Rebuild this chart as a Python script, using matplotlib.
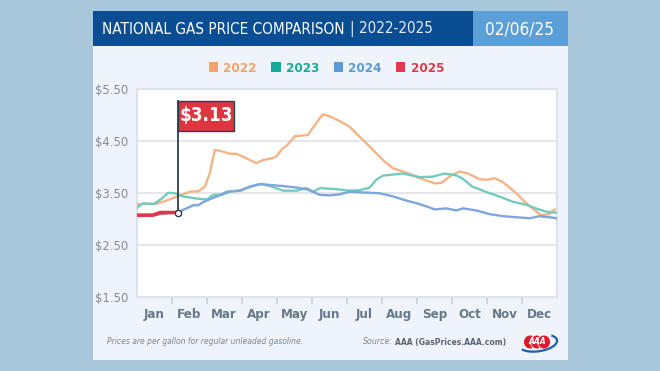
import numpy as np
import matplotlib
matplotlib.use("Agg")
import matplotlib.pyplot as plt
from matplotlib.patches import Rectangle, Ellipse, Arc, Patch

W, H = 660, 371

# month position (0 = Jan 1, 12 = Dec 31) and price in dollars
x_2022 = [0.0, 0.57, 0.86, 1.19, 1.52, 1.76, 1.95, 2.09, 2.23, 2.38, 2.66, 2.85, 3.14, 3.42,
          3.61, 3.85, 3.99, 4.18, 4.28, 4.52, 4.89, 4.99, 5.18, 5.32, 5.51, 5.79, 6.08, 6.32,
          6.56, 6.84, 7.08, 7.32, 7.60, 7.89, 8.08, 8.51, 8.70, 8.93, 9.22, 9.46, 9.79, 10.03,
          10.22, 10.45, 10.84, 11.12, 11.41, 11.55, 11.78, 11.93]
y_2022 = [3.29, 3.30, 3.36, 3.45, 3.53, 3.54, 3.63, 3.89, 4.33, 4.32, 4.26, 4.26, 4.17, 4.08,
          4.14, 4.17, 4.21, 4.37, 4.41, 4.60, 4.62, 4.72, 4.90, 5.02, 4.98, 4.89, 4.78, 4.62,
          4.46, 4.27, 4.11, 3.98, 3.92, 3.85, 3.79, 3.69, 3.70, 3.82, 3.92, 3.88, 3.77, 3.76,
          3.79, 3.72, 3.50, 3.31, 3.15, 3.08, 3.10, 3.19]

x_2023 = [0.0, 0.19, 0.48, 0.72, 0.90, 1.09, 1.33, 1.71, 2.00, 2.19, 2.43, 2.66, 3.00, 3.28,
          3.57, 3.85, 4.18, 4.56, 4.85, 5.04, 5.23, 5.70, 6.08, 6.37, 6.65, 6.84, 7.03, 7.32,
          7.60, 7.89, 8.08, 8.45, 8.78, 9.10, 9.29, 9.58, 9.96, 10.34, 10.73, 11.12, 11.39,
          11.68, 11.88, 12.0]
y_2023 = [3.22, 3.31, 3.29, 3.40, 3.51, 3.50, 3.44, 3.40, 3.38, 3.47, 3.47, 3.53, 3.56, 3.63,
          3.68, 3.63, 3.55, 3.55, 3.60, 3.53, 3.60, 3.58, 3.55, 3.56, 3.61, 3.76, 3.84, 3.86,
          3.88, 3.84, 3.81, 3.82, 3.88, 3.85, 3.79, 3.63, 3.53, 3.44, 3.34, 3.28, 3.21,
          3.15, 3.13, 3.13]

x_2024 = [0.0, 0.5, 0.9, 1.23, 1.42, 1.62, 1.76, 1.90, 2.14, 2.33, 2.57, 2.95, 3.23, 3.52,
          3.80, 4.18, 4.56, 4.85, 5.23, 5.51, 5.79, 6.08, 6.65, 6.94, 7.32, 7.70, 7.98, 8.18,
          8.51, 8.84, 9.13, 9.32, 9.70, 10.07, 10.45, 10.84, 11.22, 11.50, 11.78, 12.0]
y_2024 = [3.08, 3.08, 3.12, 3.15, 3.21, 3.27, 3.27, 3.33, 3.40, 3.45, 3.53, 3.55, 3.63, 3.68,
          3.66, 3.64, 3.61, 3.58, 3.47, 3.46, 3.48, 3.53, 3.51, 3.50, 3.44, 3.36, 3.31, 3.27,
          3.19, 3.21, 3.17, 3.21, 3.17, 3.10, 3.06, 3.04, 3.02, 3.06, 3.04, 3.02]

x_2025 = [0.0, 0.47, 0.67, 0.95, 1.19]
y_2025 = [3.08, 3.08, 3.13, 3.13, 3.13]

years = ["2022", "2023", "2024", "2025"]
line_colors = ["#f6b486", "#72cbbf", "#7ea5dc", "#e0354a"]
legend_colors = ["#f3a36c", "#17a99a", "#5b9bd5", "#e03a4c"]

months = ["Jan", "Feb", "Mar", "Apr", "May", "Jun", "Jul", "Aug", "Sep", "Oct", "Nov", "Dec"]
y_ticks = [1.5, 2.5, 3.5, 4.5, 5.5]
y_labels = ["$1.50", "$2.50", "$3.50", "$4.50", "$5.50"]

title_main = "NATIONAL GAS PRICE COMPARISON"
title_years = "| 2022-2025"
date_text = "02/06/25"
note_text = "Prices are per gallon for regular unleaded gasoline."

plt.rcParams["font.family"] = ["DejaVu Sans"]
plt.rcParams["font.stretch"] = "condensed"


def fx(x):
    return x / W


def fy(y):
    return 1 - y / H


fig = plt.figure(figsize=(W / 100, H / 100), dpi=100, facecolor="#a9c7da")
r = fig.canvas.get_renderer()


def box(x0, y0, x1, y1, color):
    fig.add_artist(Rectangle((fx(x0), fy(y1)), fx(x1) - fx(x0), fy(y0) - fy(y1),
                             transform=fig.transFigure, facecolor=color, edgecolor="none",
                             zorder=-10))


def fit(t, width):
    # shrink a text so it spans the given pixel width
    for _ in range(4):
        w = t.get_window_extent(r).width
        t.set_fontsize(t.get_fontsize() * width / w)


# card and header
box(93, 11, 568, 360, "#eef4fa")
box(93, 11, 473, 46, "#0a4d92")
box(473, 11, 568, 46, "#5b9fd6")

ax = fig.add_axes([fx(136.6), fy(297.3), fx(557) - fx(136.6), fy(89.3) - fy(297.3)])
ax.set_facecolor("white")
for s in ax.spines.values():
    s.set_color("#dde3e9")
    s.set_linewidth(1.5)

series = [(x_2022, y_2022), (x_2023, y_2023), (x_2024, y_2024)]
for (xs, ys), c in zip(series, line_colors[:3]):
    ax.plot(xs, ys, color=c, lw=1.7, solid_joinstyle="round", zorder=3)
ax.plot(x_2025, y_2025, color=line_colors[3], lw=2.6, zorder=4)

# flag marker at the latest 2025 value
lx, ly = x_2025[-1], y_2025[-1]
flag_top = 5.28
ax.plot([lx, lx], [ly, flag_top], color="#2d3e50", lw=1.3, zorder=5)
ax.plot([lx], [ly], marker="o", ms=4.5, mfc="white", mec="#2d3e50", mew=1, zorder=6)
ax.add_patch(Rectangle((lx, flag_top - 0.58), 1.6, 0.58, facecolor="#dd3641",
                       edgecolor="#2d3e50", lw=1, zorder=6))
ax.text(lx + 0.8, flag_top - 0.29, "$%.2f" % ly, color="white", fontsize=13.5,
        fontweight="bold", ha="center", va="center", zorder=7)

ax.set_xlim(0, 12)
ax.set_ylim(1.5, 5.5)
ax.set_yticks(y_ticks)
ax.set_yticklabels(y_labels)
ax.yaxis.grid(True, color="#dfe2e5", lw=1.2)
ax.set_axisbelow(True)
ax.tick_params(axis="y", length=0, pad=6, labelsize=9.3, labelcolor="#808c98")
ax.set_xticks(np.arange(1, 12))
ax.set_xticklabels([])
ax.set_xticks(np.arange(12) + 0.5, minor=True)
ax.set_xticklabels(months, minor=True)
ax.tick_params(axis="x", which="major", length=5, width=1.2, color="#c9d0d7")
ax.tick_params(axis="x", which="minor", length=0, pad=8, labelsize=9.5, labelcolor="#66788a")
for t in ax.get_xticklabels(minor=True):
    t.set_fontweight("bold")

# legend
handles = [Patch(facecolor=c, edgecolor="none") for c in legend_colors]
leg = fig.legend(handles, years, loc="center", bbox_to_anchor=(fx(326.5), fy(68)), ncol=4,
                 frameon=False, handlelength=0.7, handleheight=0.7, handletextpad=0.4,
                 columnspacing=1.1, borderpad=0,
                 prop={"weight": "bold", "size": 9.5, "stretch": "condensed"})
for t, c in zip(leg.get_texts(), legend_colors):
    t.set_color(c)

# header texts
t1 = fig.text(fx(101.5), fy(29), title_main, color="white", fontsize=14.5, va="center")
fit(t1, 242)
bb = t1.get_window_extent(r)
t2 = fig.text(bb.x1 / W + fx(6), fy(29), title_years, color="#e4ecf5", fontsize=t1.get_fontsize(),
              va="center", fontweight="light")
fit(t2, 83)
t3 = fig.text(fx(520), fy(29), date_text, color="white", fontsize=15, ha="center", va="center")
fit(t3, 69)

# footer
t4 = fig.text(fx(107), fy(342), note_text, color="#7c8792", fontsize=6.8, style="italic",
              va="center")
fit(t4, 195)
src = fig.text(fx(506), fy(342), "AAA (GasPrices.AAA.com)", color="#5c6670", fontsize=6.8,
               fontweight="bold", ha="right", va="center", fontstretch="normal")
fit(src, 112)
sb = src.get_window_extent(r)
t5 = fig.text(sb.x0 / W - fx(2), fy(342), "Source:", color="#7c8792", fontsize=src.get_fontsize(),
              style="italic", ha="right", va="center")
fit(t5, 30)

# logo
for dx in (-7, 0, 7):
    fig.add_artist(Ellipse((fx(537 + dx), fy(342)), fx(13), 14 / H, transform=fig.transFigure,
                           facecolor="#e11b2b", edgecolor="white", lw=0.6))
fig.text(fx(537), fy(342), "AAA", color="white", fontsize=6, fontweight="bold",
         style="italic", ha="center", va="center")
fig.add_artist(Arc((fx(538), fy(343)), fx(40), 16 / H, angle=25, theta1=190, theta2=20,
                   transform=fig.transFigure, color="#1f5fae", lw=1.6))

fig.savefig("out.png", dpi=100, facecolor=fig.get_facecolor())
